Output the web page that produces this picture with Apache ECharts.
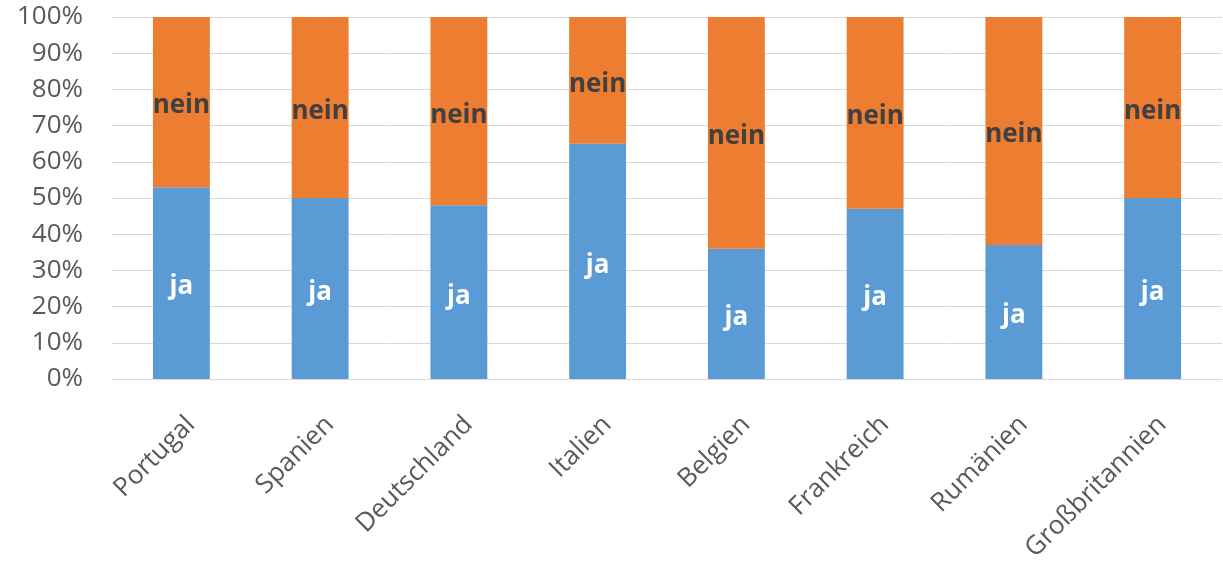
<!DOCTYPE html>
<html>
<head>
<meta charset="utf-8">
<script src="https://cdn.jsdelivr.net/npm/echarts@6/dist/echarts.min.js"></script>
<style>
html,body{margin:0;padding:0;background:#fff;}
#chart{width:1223px;height:565px;}
</style>
</head>
<body>
<div id="chart"></div>
<script>
const categories = ['Portugal','Spanien','Deutschland','Italien','Belgien','Frankreich','Rumänien','Großbritannien'];
const jaValues = [53, 50, 48, 65, 36, 47, 37, 50];
const neinValues = [47, 50, 52, 35, 64, 53, 63, 50];
const yTicks = [0,10,20,30,40,50,60,70,80,90,100];

const font = '"Open Sans", "Noto Sans", sans-serif';
const chart = echarts.init(document.getElementById('chart'));
chart.setOption({
  animation: false,
  grid: {left: 112, right: 1, top: 17, bottom: 186, containLabel: false, outerBoundsMode: 'none'},
  xAxis: {
    type: 'category',
    data: categories,
    axisLine: {lineStyle: {color: '#d9d9d9', width: 1}},
    axisTick: {show: false},
    axisLabel: {rotate: 45, color: '#595959', fontSize: 26, lineHeight: 27, verticalAlign: 'top', fontFamily: font, margin: 32, interval: 0}
  },
  yAxis: {
    type: 'value',
    min: 0, max: 100, interval: 10,
    axisLine: {show: false},
    axisTick: {show: false},
    splitLine: {lineStyle: {color: '#d9d9d9', width: 1}},
    axisLabel: {formatter: v => yTicks.includes(v) ? v + '%' : '', color: '#595959', fontSize: 26, fontFamily: font, margin: 29}
  },
  series: [
    {
      name: 'ja', type: 'bar', stack: 'a', data: jaValues, barWidth: '41%',
      itemStyle: {color: '#5b9bd5'},
      label: {show: true, position: 'inside', offset: [0, 4], formatter: 'ja', color: '#ffffff', fontSize: 26, fontWeight: 'bold', fontFamily: font}
    },
    {
      name: 'nein', type: 'bar', stack: 'a', data: neinValues, barWidth: '41%',
      itemStyle: {color: '#ed7d31'},
      label: {show: true, position: 'inside', offset: [0, 4], formatter: 'nein', color: '#404040', fontSize: 26, fontWeight: 'bold', fontFamily: font}
    }
  ]
});
</script>
</body>
</html>
